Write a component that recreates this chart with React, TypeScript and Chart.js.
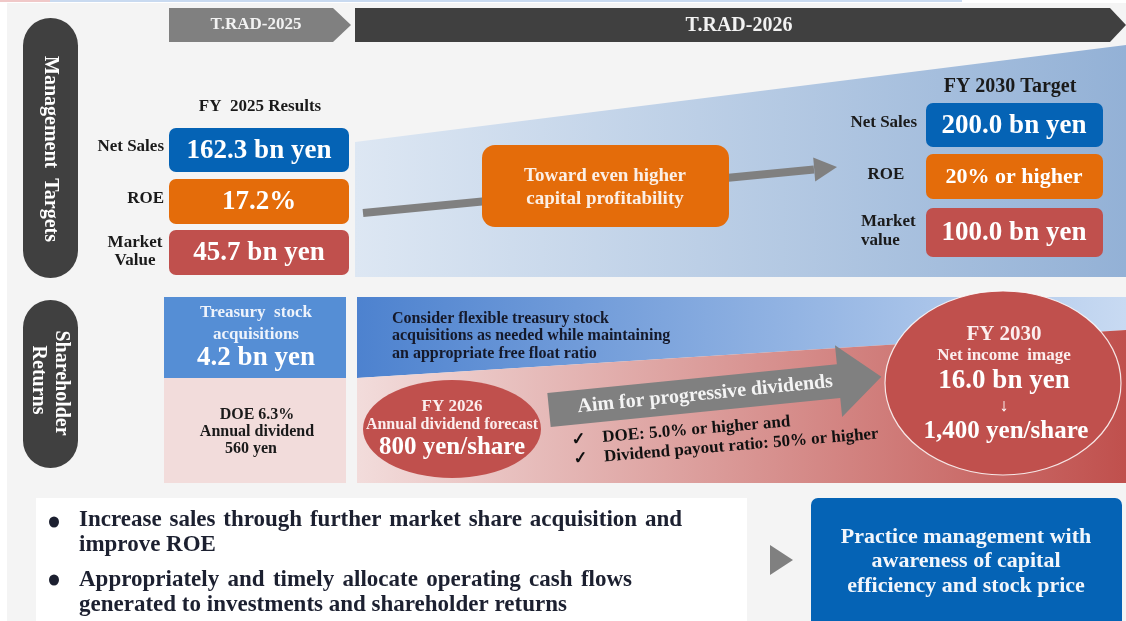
import React, { useEffect, useRef } from "react";
import { Chart, registerables } from "chart.js";

Chart.register(...registerables);

// ---------- data ----------
const phaseLabels = ["T.RAD-2025", "T.RAD-2026"];
const sectionTitles = ["Management  Targets", "Shareholder", "Returns"];
const resultsTitle = "FY  2025 Results";
const targetTitle = "FY 2030 Target";
const metricLabels2025 = [["Net Sales"], ["ROE"], ["Market", "Value"]];
const metricLabels2030 = [["Net Sales"], ["ROE"], ["Market", "value"]];
const results2025 = ["162.3 bn yen", "17.2%", "45.7 bn yen"];
const targets2030 = ["200.0 bn yen", "20% or higher", "100.0 bn yen"];
const bridgeText = ["Toward even higher", "capital profitability"];
const treasuryText = ["Treasury  stock", "acquisitions"];
const treasuryValue = ["4.2 bn yen"];
const dividend2025 = ["DOE 6.3%", "Annual dividend", "560 yen"];
const treasuryPolicy = [
  "Consider flexible treasury stock",
  "acquisitions as needed while maintaining",
  "an appropriate free float ratio",
];
const forecast2026 = ["FY 2026", "Annual dividend forecast", "800 yen/share"];
const progressiveText = ["Aim for progressive dividends"];
const dividendPolicy = ["DOE: 5.0% or higher and", "Dividend payout ratio: 50% or higher"];
const image2030 = ["FY 2030", "Net income  image", "16.0 bn yen", "\u2193", "1,400 yen/share"];
const bulletLines = [
  "Increase sales through further market share acquisition and",
  "improve ROE",
  "Appropriately and timely allocate operating cash flows",
  "generated to investments and shareholder returns",
];
const conclusionText = ["Practice management with", "awareness of capital", "efficiency and stock price"];

// ---------- style ----------
const W = 1126;
const H = 621;
const FONT = '"Liberation Serif", "Times New Roman", serif';
const C = {
  bg: "#f4f4f4",
  dark: "#404040",
  gray: "#808080",
  blue: "#0563b5",
  orange: "#e46c0a",
  red: "#c0504d",
  midBlue: "#558ed5",
  pink: "#f2dcdb",
  text: "#1a1a1a",
  navy: "#1c2030",
  white: "#ffffff",
};

const bold = (s: number) => `bold ${s}px ${FONT}`;

const infographic = {
  id: "infographic",
  beforeDraw(chart: any) {
    const ctx: CanvasRenderingContext2D = chart.ctx;
    const xs = chart.scales.x;
    const ys = chart.scales.y;
    const X = (v: number) => xs.getPixelForValue(v);
    const Y = (v: number) => ys.getPixelForValue(v);
    const L = (v: number) => xs.getPixelForValue(v) - xs.getPixelForValue(0);

    const rect = (x0: number, y0: number, x1: number, y1: number, fill: any) => {
      ctx.fillStyle = fill;
      ctx.fillRect(X(x0), Y(y0), X(x1) - X(x0), Y(y1) - Y(y0));
    };
    const rrect = (x0: number, y0: number, x1: number, y1: number, r: any, fill: any) => {
      ctx.beginPath();
      ctx.roundRect(X(x0), Y(y0), X(x1) - X(x0), Y(y1) - Y(y0), r);
      ctx.fillStyle = fill;
      ctx.fill();
    };
    const poly = (pts: number[][], fill: any) => {
      ctx.beginPath();
      pts.forEach(([a, b], i) => (i ? ctx.lineTo(X(a), Y(b)) : ctx.moveTo(X(a), Y(b))));
      ctx.closePath();
      ctx.fillStyle = fill;
      ctx.fill();
    };
    const hgrad = (x0: number, x1: number, c0: string, c1: string) => {
      const g = ctx.createLinearGradient(X(x0), 0, X(x1), 0);
      g.addColorStop(0, c0);
      g.addColorStop(1, c1);
      return g;
    };
    const text = (
      s: string,
      x: number,
      y: number,
      size: number,
      color: string,
      align: CanvasTextAlign = "center"
    ) => {
      ctx.font = bold(size);
      ctx.fillStyle = color;
      ctx.textAlign = align;
      ctx.textBaseline = "middle";
      ctx.fillText(s, X(x), Y(y));
    };
    const rotText = (s: string, x: number, y: number, ang: number, size: number, color: string) => {
      ctx.save();
      ctx.translate(X(x), Y(y));
      ctx.rotate(ang);
      ctx.font = bold(size);
      ctx.fillStyle = color;
      ctx.textAlign = "center";
      ctx.textBaseline = "middle";
      ctx.fillText(s, 0, 0);
      ctx.restore();
    };
    const justify = (s: string, x: number, y: number, width: number, size: number, color: string) => {
      ctx.font = bold(size);
      ctx.fillStyle = color;
      ctx.textAlign = "left";
      ctx.textBaseline = "middle";
      const words = s.split(" ");
      const natural = words.reduce((a, w) => a + ctx.measureText(w).width, 0);
      const gap = Math.max(ctx.measureText(" ").width, (L(width) - natural) / (words.length - 1));
      let cx = X(x);
      words.forEach((w) => {
        ctx.fillText(w, cx, Y(y));
        cx += ctx.measureText(w).width + gap;
      });
    };
    const ellipse = (cx: number, cy: number, rx: number, ry: number, fill: string, stroke?: string) => {
      ctx.beginPath();
      ctx.ellipse(X(cx), Y(cy), L(rx), L(ry), 0, 0, Math.PI * 2);
      ctx.fillStyle = fill;
      ctx.fill();
      if (stroke) {
        ctx.strokeStyle = stroke;
        ctx.lineWidth = 1.2;
        ctx.stroke();
      }
    };

    // background
    rect(0, 0, W, H, "#ffffff");
    rect(7, 3, W, H, C.bg);
    rect(0, 0, 50, 2, "#f0c8c8");
    rect(50, 0, 962, 2, "#c9daf0");

    // phase arrows
    poly([[169, 8], [333, 8], [351, 25], [333, 42], [169, 42]], C.gray);
    poly([[355, 8], [1110, 8], [1126, 25], [1110, 42], [355, 42]], C.dark);
    text(phaseLabels[0], 256, 25, 17, "#f2f2f2");
    text(phaseLabels[1], 739, 26, 20, "#f2f2f2");

    // ===== Management targets =====
    rrect(23, 18, 78, 278, 27.5, C.dark);
    rotText(sectionTitles[0], 50, 149, Math.PI / 2, 20, C.white);

    // trapezoid
    poly([[355, 142], [1126, 45], [1126, 277], [355, 277]], hgrad(355, 1126, "#dde7f3", "#93b1d6"));

    // thin arrow
    ctx.beginPath();
    ctx.moveTo(X(363), Y(213));
    ctx.lineTo(X(814), Y(169.5));
    ctx.strokeStyle = C.gray;
    ctx.lineWidth = 8;
    ctx.stroke();
    poly([[813.2, 157.5], [837, 167], [815.2, 181.5]], C.gray);

    // bridge box
    rrect(482, 145, 729, 227, 13, C.orange);
    text(bridgeText[0], 605, 176, 19, "#fbefe6");
    text(bridgeText[1], 605, 199, 19, "#fbefe6");

    // FY2025 results
    text(resultsTitle, 260, 107, 17, C.text);
    const fills = [C.blue, C.orange, C.red];
    const rows2025 = [[128, 172], [179, 224], [230, 275]];
    rows2025.forEach(([a, b], i) => {
      rrect(169, a, 349, b, 7, fills[i]);
      text(results2025[i], 259, (a + b) / 2 + 1, 27, C.white);
      const lab = metricLabels2025[i];
      if (lab.length === 1) text(lab[0], 164, (a + b) / 2 - 3, 17, C.text, "right");
      else {
        text(lab[0], 135, (a + b) / 2 - 10, 17, C.text);
        text(lab[1], 135, (a + b) / 2 + 8, 17, C.text);
      }
    });

    // FY2030 targets
    text(targetTitle, 1010, 87, 20, C.text);
    const rows2030 = [[103, 147], [154, 199], [208, 257]];
    const sizes2030 = [27, 22, 27];
    rows2030.forEach(([a, b], i) => {
      rrect(926, a, 1103, b, 7, fills[i]);
      text(targets2030[i], 1014, (a + b) / 2 + 1, sizes2030[i], C.white);
    });
    text(metricLabels2030[0][0], 917, 123, 17, C.text, "right");
    text(metricLabels2030[1][0], 886, 175, 17, C.text);
    text(metricLabels2030[2][0], 861, 222, 17, C.text, "left");
    text(metricLabels2030[2][1], 861, 241, 17, C.text, "left");

    // ===== Shareholder returns =====
    rrect(23, 300, 78, 468, 27.5, C.dark);
    rotText(sectionTitles[1], 61, 383, Math.PI / 2, 20, C.white);
    rotText(sectionTitles[2], 38, 380, Math.PI / 2, 20, C.white);

    rect(164, 297, 346, 378, C.midBlue);
    rect(164, 378, 346, 483, C.pink);
    text(treasuryText[0], 256, 313, 17, "#eef3fb");
    text(treasuryText[1], 256, 335, 17, "#eef3fb");
    text(treasuryValue[0], 256, 358, 27, C.white);
    text(dividend2025[0], 257, 415, 16, C.text);
    text(dividend2025[1], 257, 432, 16, C.text);
    text(dividend2025[2], 251, 449, 16, C.text);

    poly([[357, 297], [1126, 297], [1126, 330], [357, 378]], hgrad(357, 1126, "#4d82cf", "#c8daf2"));
    poly([[357, 378], [1126, 330], [1126, 483], [357, 483]], hgrad(357, 1126, "#f2dcdb", "#c0504d"));

    treasuryPolicy.forEach((s, i) => text(s, 392, 319 + i * 17.3, 16, "#15192a", "left"));

    // FY2026 ellipse
    ellipse(452, 429, 89, 49, C.red);
    text(forecast2026[0], 452, 407, 17, "#fbeeee");
    text(forecast2026[1], 452, 425, 16, "#fbeeee");
    text(forecast2026[2], 452, 448, 25, C.white);

    // big rotated arrow
    ctx.save();
    ctx.translate(X(549), Y(410));
    ctx.rotate((-5.7 * Math.PI) / 180);
    ctx.beginPath();
    ctx.moveTo(0, -17);
    ctx.lineTo(L(291), -17);
    ctx.lineTo(L(291), -L(36));
    ctx.lineTo(L(334), 0);
    ctx.lineTo(L(291), L(36));
    ctx.lineTo(L(291), 17);
    ctx.lineTo(0, 17);
    ctx.closePath();
    ctx.fillStyle = C.gray;
    ctx.fill();
    ctx.font = bold(20);
    ctx.fillStyle = "#f4f4f4";
    ctx.textAlign = "center";
    ctx.textBaseline = "middle";
    ctx.fillText(progressiveText[0], L(157), 0);
    ctx.rotate((0.9 * Math.PI) / 180);
    ctx.font = bold(17);
    ctx.fillStyle = "#111111";
    ctx.textAlign = "left";
    dividendPolicy.forEach((s, i) => {
      ctx.fillText("\u2713", L(20), L(32 + i * 19.5));
      ctx.fillText(s, L(51), L(32 + i * 19.5));
    });
    ctx.restore();

    // FY2030 circle
    ellipse(1003, 383, 118, 92, C.red, "rgba(255,255,255,0.85)");
    text(image2030[0], 1004, 335, 21, "#fbeeee");
    text(image2030[1], 1004, 356, 17, "#fbeeee");
    text(image2030[2], 1004, 381, 27, C.white);
    text(image2030[3], 1004, 406, 18, C.white);
    text(image2030[4], 1006, 432, 25, C.white);

    // ===== bottom =====
    rect(36, 498, 747, H, "#ffffff");
    [522, 580].forEach((y) => ellipse(54, y, 5, 5.5, C.navy));
    justify(bulletLines[0], 79, 520, 603, 23, C.navy);
    text(bulletLines[1], 79, 545, 23, C.navy, "left");
    justify(bulletLines[2], 79, 580, 553, 23, C.navy);
    text(bulletLines[3], 79, 605, 23, C.navy, "left");

    poly([[770, 545], [793, 560], [770, 575]], C.gray);
    rrect(811, 498, 1122, H + 10, 7, C.blue);
    conclusionText.forEach((s, i) => text(s, 966, 537 + i * 24.5, 22, "#f2f6fb"));
  },
};

export default function App() {
  const ref = useRef<HTMLCanvasElement | null>(null);
  useEffect(() => {
    document.body.style.margin = "0";
    const chart = new Chart(ref.current as HTMLCanvasElement, {
      type: "scatter",
      data: { datasets: [] },
      options: {
        animation: false,
        responsive: false,
        devicePixelRatio: 1,
        events: [],
        layout: { padding: 0 },
        scales: {
          x: { type: "linear", min: 0, max: W, display: false },
          y: { type: "linear", min: 0, max: H, reverse: true, display: false },
        },
        plugins: { legend: { display: false }, tooltip: { enabled: false } },
      },
      plugins: [infographic],
    } as any);
    return () => chart.destroy();
  }, []);
  return (
    <div style={{ width: W, height: H }}>
      <style>{"body{margin:0}"}</style>
      <canvas ref={ref} width={W} height={H} style={{ display: "block" }} />
    </div>
  );
}
